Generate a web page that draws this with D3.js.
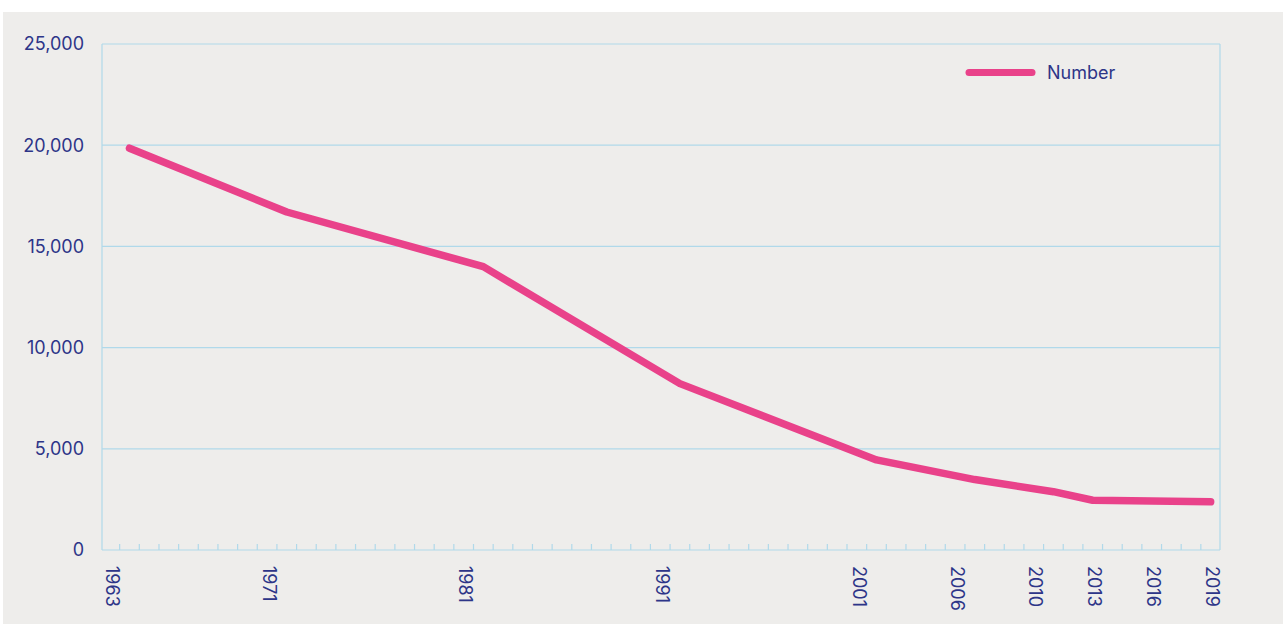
<!doctype html>
<html lang="en">
<head>
  <meta charset="utf-8">
  <title>Number</title>
  <style>
  body { margin: 0; background: #fff; }
  text { font-family: Inter, "Noto Sans", sans-serif; fill: #2d3588; }
  .grid line { stroke: #b0d9ea; stroke-width: 1.2; }
  </style>
</head>
<body>
  <div id="chart"></div>
  <script src="https://d3js.org/d3.v7.min.js"></script>
  <script>
    (function(){

      // data points (year, number)
      var years  = [1964, 1972, 1982, 1992, 2002, 2007, 2011, 2013, 2019];
      var values = [19850, 16700, 14000, 8220, 4450, 3480, 2880, 2460, 2380];

      var labelYears = [1963, 1971, 1981, 1991, 2001, 2006, 2010, 2013, 2016, 2019];
      var yTicks = [0, 5000, 10000, 15000, 20000, 25000];
      var seriesName = "Number";

      var width = 1283, height = 624;
      var left = 102, right = 1220, top = 44, bottom = 550;

      var svg = d3.select("#chart").append("svg")
          .attr("width", width)
          .attr("height", height);

      svg.append("rect")
          .attr("x", 3).attr("y", 12)
          .attr("width", width - 3).attr("height", height - 12)
          .attr("fill", "#eeedeb");

      var allYears = d3.range(1963, 2020);
      var x = d3.scaleBand().domain(allYears).range([100, 1220.5]).padding(0);
      var bw = x.bandwidth();
      var y = d3.scaleLinear().domain([0, 25000]).range([bottom, top]);

      // grid + frame
      var grid = svg.append("g").attr("class", "grid");
      grid.selectAll("line.h").data(yTicks).enter().append("line")
          .attr("x1", left).attr("x2", right)
          .attr("y1", function(d){ return y(d); })
          .attr("y2", function(d){ return y(d); });
      grid.append("line").attr("x1", left).attr("x2", left).attr("y1", top).attr("y2", bottom);
      grid.append("line").attr("x1", right).attr("x2", right).attr("y1", top).attr("y2", bottom);

      // minor ticks on year boundaries
      grid.selectAll("line.t").data(allYears.slice(1)).enter().append("line")
          .attr("x1", function(d){ return x(d); })
          .attr("x2", function(d){ return x(d); })
          .attr("y1", bottom).attr("y2", bottom - 6);

      // y labels
      var fmt = d3.format(",");
      svg.append("g").selectAll("text").data(yTicks).enter().append("text")
          .attr("x", 84)
          .attr("y", function(d){ return y(d); })
          .attr("dy", "0.35em")
          .attr("text-anchor", "end")
          .style("font-size", "18px")
          .text(fmt);

      // x labels rotated
      svg.append("g").selectAll("text").data(labelYears).enter().append("text")
          .attr("transform", function(d){
            return "translate(" + (x(d) + bw / 2 + 2) + ",566) rotate(90)";
          })
          .attr("dy", "0.35em")
          .style("font-size", "18px")
          .text(function(d){ return d; });

      // line
      var line = d3.line()
          .x(function(d, i){ return x(years[i]) + bw / 2; })
          .y(function(d){ return y(d); });

      svg.append("path")
          .datum(values)
          .attr("d", line)
          .attr("fill", "none")
          .attr("stroke", "#e9428a")
          .attr("stroke-width", 7.5)
          .attr("stroke-linecap", "round")
          .attr("stroke-linejoin", "round");

      // legend
      var lg = svg.append("g");
      lg.append("line")
          .attr("x1", 969).attr("x2", 1032)
          .attr("y1", 72.5).attr("y2", 72.5)
          .attr("stroke", "#e9428a")
          .attr("stroke-width", 7)
          .attr("stroke-linecap", "round");
      lg.append("text")
          .attr("x", 1047).attr("y", 72.5)
          .attr("dy", "0.35em")
          .style("font-size", "18px")
          .text(seriesName);

    })();
  </script>
</body>
</html>
